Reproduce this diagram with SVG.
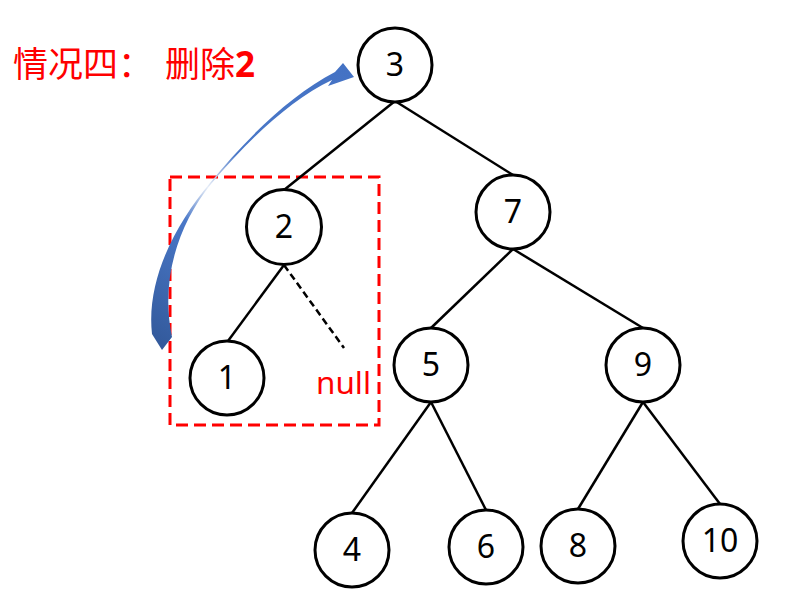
<svg xmlns="http://www.w3.org/2000/svg" width="785" height="613" viewBox="0 0 785 613">
<style>
.n circle{fill:#fff;stroke:#000;stroke-width:3}
.n text{font-family:"Noto Sans","DejaVu Sans",sans-serif;font-size:32px;fill:#000;text-anchor:middle}
.e line{stroke:#000;stroke-width:2.5}
.red{fill:#ff0000;font-family:"Noto Sans","Noto Sans CJK SC",sans-serif}
</style>
<defs>
<linearGradient id="bg" x1="160" y1="345" x2="350" y2="70" gradientUnits="userSpaceOnUse">
<stop offset="0" stop-color="#335a9c"/>
<stop offset="0.35" stop-color="#4a78c8"/>
<stop offset="0.47" stop-color="#e8eef8"/>
<stop offset="0.6" stop-color="#4a78c8"/>
<stop offset="1" stop-color="#4472c4"/>
</linearGradient>
</defs>
<rect width="785" height="613" fill="#fff"/>
<text class="red" y="77" font-size="35" font-family="'Noto Sans CJK SC',sans-serif"><tspan x="13">情况四：</tspan><tspan x="165">删除<tspan font-weight="bold">2</tspan></tspan></text>
<rect x="170" y="177" width="209" height="248" fill="none" stroke="#ff0000" stroke-width="3" stroke-dasharray="12,6"/>
<path d="M162,350 L152,334 C146,280 175,225 210,183 C245,140 290,95 335,72 L343,63 L354,77 L328,86 L332,80 C290,100 248,140 211,184 C178,225 160,280 172,337 Z" fill="url(#bg)"/>
<g id="connectors" class="e">
<line x1="395" y1="101" x2="284" y2="190"/>
<line x1="395" y1="101" x2="513" y2="175"/>
<line x1="513" y1="249" x2="431" y2="328"/>
<line x1="513" y1="249" x2="643" y2="328"/>
<line x1="284" y1="265" x2="228" y2="341"/>
<line x1="284" y1="265" x2="344" y2="348" stroke-dasharray="7,4"/>
<line x1="431" y1="402" x2="352" y2="513"/>
<line x1="431" y1="402" x2="486" y2="510"/>
<line x1="643" y1="402" x2="578" y2="509"/>
<line x1="643" y1="402" x2="720" y2="504"/>
</g>
<g id="n3" class="n"><circle cx="395" cy="65" r="37"/><text x="395" y="76">3</text></g>
<g id="n2" class="n"><circle cx="284" cy="227" r="37.5"/><text x="284" y="238">2</text></g>
<g id="n7" class="n"><circle cx="513" cy="212" r="37"/><text x="513" y="223">7</text></g>
<g id="n1" class="n"><circle cx="227" cy="378" r="37"/><text x="227" y="389">1</text></g>
<g id="n5" class="n"><circle cx="431" cy="365" r="37"/><text x="431" y="376">5</text></g>
<g id="n9" class="n"><circle cx="643" cy="365" r="37"/><text x="643" y="376">9</text></g>
<g id="n4" class="n"><circle cx="352" cy="550" r="37"/><text x="352" y="561">4</text></g>
<g id="n6" class="n"><circle cx="486" cy="547" r="37"/><text x="486" y="558">6</text></g>
<g id="n8" class="n"><circle cx="578" cy="546" r="37"/><text x="578" y="557">8</text></g>
<g id="n10" class="n"><circle cx="720" cy="541" r="37"/><text x="720" y="552">10</text></g>
<text class="red" x="316" y="394" font-size="31" textLength="55" lengthAdjust="spacingAndGlyphs">null</text>
</svg>
